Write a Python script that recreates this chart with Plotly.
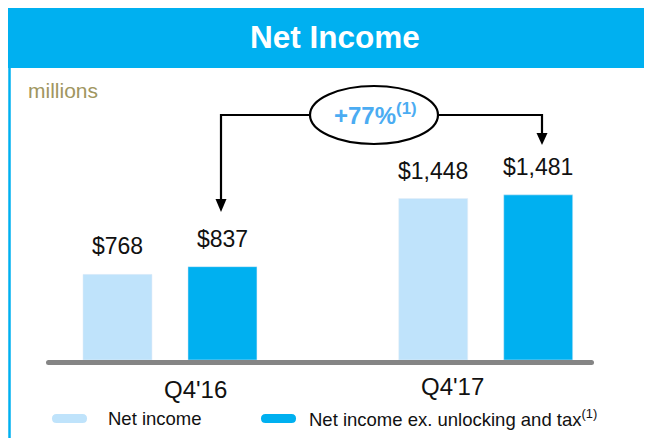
import plotly.graph_objects as go

# data
quarters = ["Q4'16", "Q4'17"]
net_income = [768, 1448]
net_income_ex = [837, 1481]
series_names = ["Net income", "Net income ex. unlocking and tax<sup>(1)</sup>"]
growth_label = "+77%"

LIGHT = '#BFE3FB'
DARK = '#00B0F0'
FONT = 'Arial, Liberation Sans, sans-serif'
W, H = 652, 438
OFF = 8  # page body margin, figure is drawn from (8, 8)
FW, FH = W - OFF, H - OFF

fig = go.Figure()
fig.add_trace(go.Bar(x=quarters, y=net_income, marker_color=LIGHT, name=series_names[0],
                     xaxis='x', yaxis='y', hoverinfo='skip'))
fig.add_trace(go.Bar(x=quarters, y=net_income_ex, marker_color=DARK, name=series_names[1],
                     xaxis='x', yaxis='y', hoverinfo='skip'))
# empty trace so the pixel overlay axes exist
fig.add_trace(go.Scatter(x=[], y=[], xaxis='x2', yaxis='y2', showlegend=False))

shapes = []
ann = []

def pill(x0, x1, y0, y1, color):
    r = (y1 - y0) / 2
    p = (f"M {x0+r},{y0} H {x1-r} Q {x1},{y0} {x1},{y0+r} Q {x1},{y1} {x1-r},{y1} "
         f"H {x0+r} Q {x0},{y1} {x0},{y0+r} Q {x0},{y0} {x0+r},{y0} Z")
    return dict(type='path', xref='x2', yref='y2', path=p, fillcolor=color,
                line=dict(width=0), layer='above')

# header band + frame
shapes.append(dict(type='rect', xref='x2', yref='y2', x0=7, x1=670, y0=6, y1=68,
                   fillcolor=DARK, line=dict(width=0), layer='below'))
shapes.append(dict(type='line', xref='x2', yref='y2', x0=9.5, x1=9.5, y0=6, y1=445,
                   line=dict(color=DARK, width=2.5), layer='below'))
# baseline
shapes.append(pill(46, 594, 360, 365, '#858585'))

# connectors and arrows
shapes.append(dict(type='path', xref='x2', yref='y2', path='M 310,115 H 221 V 201',
                   line=dict(color='black', width=2.2)))
shapes.append(dict(type='path', xref='x2', yref='y2', path='M 438,115 H 542 V 135',
                   line=dict(color='black', width=2.2)))
shapes.append(dict(type='path', xref='x2', yref='y2', path='M 215.5,199 L 226.5,199 L 221,212 Z',
                   fillcolor='black', line=dict(width=0)))
shapes.append(dict(type='path', xref='x2', yref='y2', path='M 536.5,133 L 547.5,133 L 542,145 Z',
                   fillcolor='black', line=dict(width=0)))
shapes.append(dict(type='circle', xref='x2', yref='y2', x0=310, x1=438, y0=86, y1=144,
                   fillcolor='white', line=dict(color='black', width=2.2)))

# legend swatches
shapes.append(pill(52, 87, 414, 423, LIGHT))
shapes.append(pill(261, 296, 414, 423, DARK))

ann.append(dict(xref='x2', yref='y2', x=335, y=37, text='<b>Net Income</b>', showarrow=False,
                font=dict(family=FONT, size=31.5, color='white')))
ann.append(dict(xref='x2', yref='y2', x=26, y=90, text='millions', showarrow=False, xanchor='left',
                font=dict(family=FONT, size=21, color='#A09660')))
ann.append(dict(xref='x2', yref='y2', x=375, y=114, text=f'<b>{growth_label}<sup>(1)</sup></b>',
                showarrow=False, font=dict(family=FONT, size=24, color='#4BACF2')))

# value labels
for vals, shift in [(net_income, -52.5), (net_income_ex, 52.5)]:
    for q, v in zip(quarters, vals):
        ann.append(dict(xref='x', yref='y', x=q, y=v, xshift=shift, yshift=28, showarrow=False,
                        text=f'${v:,}', font=dict(family=FONT, size=23, color='#111111')))

# category labels
for q, xs, yp in zip(quarters, [26, -33], [389, 386]):
    ann.append(dict(xref='x', yref='y2', x=q, y=yp, xshift=xs, showarrow=False, text=q,
                    font=dict(family=FONT, size=24, color='#111111')))

# legend text
for name, xp in zip(series_names, [106, 307]):
    ann.append(dict(xref='x2', yref='y2', x=xp, y=418, text=name, showarrow=False, xanchor='left',
                    font=dict(family=FONT, size=18.5, color='#111111')))

fig.update_layout(
    width=FW, height=FH,
    margin=dict(l=0, r=0, t=0, b=0),
    paper_bgcolor='white', plot_bgcolor='rgba(0,0,0,0)',
    showlegend=False,
    barmode='group', bargap=0.335, bargroupgap=0.343,
    xaxis=dict(domain=[(12.1 - OFF) / FW, (643.6 - OFF) / FW], range=[-0.5, 1.5], visible=False),
    yaxis=dict(domain=[(H - 360) / FH, (H - 70) / FH], range=[0, 290 / 0.1115], visible=False),
    xaxis2=dict(domain=[0, 1], range=[OFF, W], visible=False, anchor='y2'),
    yaxis2=dict(domain=[0, 1], range=[H, OFF], visible=False, anchor='x2'),
    shapes=shapes,
    annotations=ann,
)

fig.write_html("out.html")
